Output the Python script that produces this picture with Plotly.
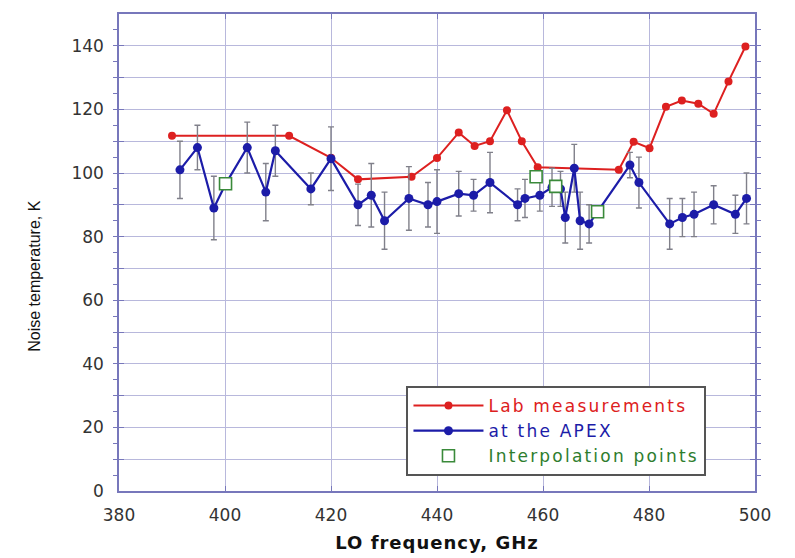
import plotly.graph_objects as go

# Lab measurements (red)
lab_f = [390.0, 412.1, 420.0, 425.1, 435.2, 440.0, 444.1, 447.1, 450.0, 453.2, 456.0,
         459.0, 474.3, 477.1, 480.1, 483.2, 486.2, 489.3, 492.2, 495.0, 498.2]
lab_t = [111.7, 111.7, 104.8, 98.0, 98.8, 104.7, 112.7, 108.5, 110.0, 119.7, 110.0,
         101.8, 101.0, 109.8, 107.8, 120.8, 122.8, 121.8, 118.6, 128.8, 139.8]

# At the APEX (blue) with error bars
apex_f = [391.5, 394.8, 397.9, 400.1, 404.2, 407.7, 409.5, 416.2, 420.0, 425.1, 427.6,
          430.1, 434.7, 438.3, 440.0, 444.1, 446.9, 450.0, 455.2, 456.6, 459.4, 461.7,
          463.3, 464.2, 465.9, 467.0, 468.7, 470.3, 476.4, 478.1, 483.9, 486.3, 488.5,
          492.2, 496.3, 498.4]
apex_t = [101.0, 108.0, 89.0, 96.5, 108.0, 94.0, 107.0, 95.0, 104.5, 90.0, 93.0,
          85.0, 92.0, 90.0, 91.0, 93.5, 93.0, 97.0, 90.0, 92.0, 93.0, 95.5,
          95.0, 86.0, 101.5, 85.0, 84.0, 87.8, 102.5, 97.0, 84.0, 86.0, 87.0,
          90.0, 87.0, 92.0]
apex_err = [9, 7, 10, None, 8, 9, 8, 5, 10, 6.5, 10,
            9, 10, 7, 10, 7, 5, 9.5, 5, 6, 5, 6,
            5.5, 8, 7.5, 9, 6, None, 4, 8, 8, 6, 7,
            6, 6, 8]

# Interpolation points
interp_f = [400.1, 458.7, 462.4, 470.3]
interp_t = [96.6, 98.8, 95.8, 87.8]

# Axis ticks
y_tickvals = list(range(0, 151, 10))
y_ticktext = [str(v) if v % 20 == 0 and v <= 140 else "" for v in y_tickvals]
x_tickvals = [380, 400, 420, 440, 460, 480, 500]

RED = "#dd2020"
BLUE = "#1c1ca8"
GREEN = "#2e7d2e"
LS = "letter-spacing:2.2px"

fig = go.Figure()

fig.add_trace(go.Scatter(
    x=lab_f, y=lab_t, mode="lines+markers",
    name=f'<span style="color:{RED};{LS}">Lab measurements</span>',
    line=dict(color=RED, width=2),
    marker=dict(color=RED, size=8),
))

fig.add_trace(go.Scatter(
    x=apex_f, y=apex_t, mode="lines+markers",
    name=f'<span style="color:{BLUE};{LS}">at the APEX</span>',
    line=dict(color=BLUE, width=2.2),
    marker=dict(color=BLUE, size=9),
    error_y=dict(type="data", array=apex_err, visible=True,
                 color="#80808a", thickness=1.4, width=3),
))

fig.add_trace(go.Scatter(
    x=interp_f, y=interp_t, mode="markers",
    name=f'<span style="color:{GREEN};{LS}">Interpolation points</span>',
    marker=dict(symbol="square", size=12, color="white",
                line=dict(color="#3a8a3a", width=1.6)),
))

tick_font = dict(family="DejaVu Sans, sans-serif", size=17, color="#333333")

fig.update_layout(
    width=795, height=558,
    margin=dict(l=111, r=48, t=4, b=75),
    paper_bgcolor="white",
    plot_bgcolor="white",
    showlegend=True,
    legend=dict(
        x=0.452, y=0.22, xanchor="left", yanchor="top",
        bgcolor="white", bordercolor="#555555", borderwidth=2,
        font=dict(family="DejaVu Sans, sans-serif", size=17),
        tracegroupgap=0, itemwidth=70,
    ),
    xaxis=dict(
        range=[380, 500], tickvals=x_tickvals,
        showgrid=True, gridcolor="#b8b8dc", gridwidth=1,
        showline=True, linecolor="#7777bb", linewidth=1.5, mirror="ticks",
        ticks="inside", ticklen=5, tickcolor="#7777bb",
        tickfont=tick_font, zeroline=False, ticklabelstandoff=8,
        title=dict(text='<b><span style="letter-spacing:1px">LO frequency, GHz</span></b>', standoff=12,
                   font=dict(family="DejaVu Sans, sans-serif", size=18, color="#111111")),
    ),
    yaxis=dict(
        range=[0, 150], tickvals=y_tickvals, ticktext=y_ticktext,
        showgrid=True, gridcolor="#b8b8dc", gridwidth=1,
        showline=True, linecolor="#7777bb", linewidth=1.5, mirror="ticks",
        ticks="inside", ticklen=5, tickcolor="#7777bb",
        minor=dict(dtick=5, ticks="outside", ticklen=4, tickcolor="#7777bb", showgrid=False),
        tickfont=tick_font, zeroline=False, ticklabelstandoff=10,
    ),
    annotations=[dict(
        text="Noise temperature, K", textangle=-90,
        xref="paper", yref="paper", x=-0.133, y=0.452,
        xanchor="center", yanchor="middle", showarrow=False,
        font=dict(family="Liberation Sans, Arial, sans-serif", size=16, color="#111111"),
    )],
)

fig.write_html("out.html")
